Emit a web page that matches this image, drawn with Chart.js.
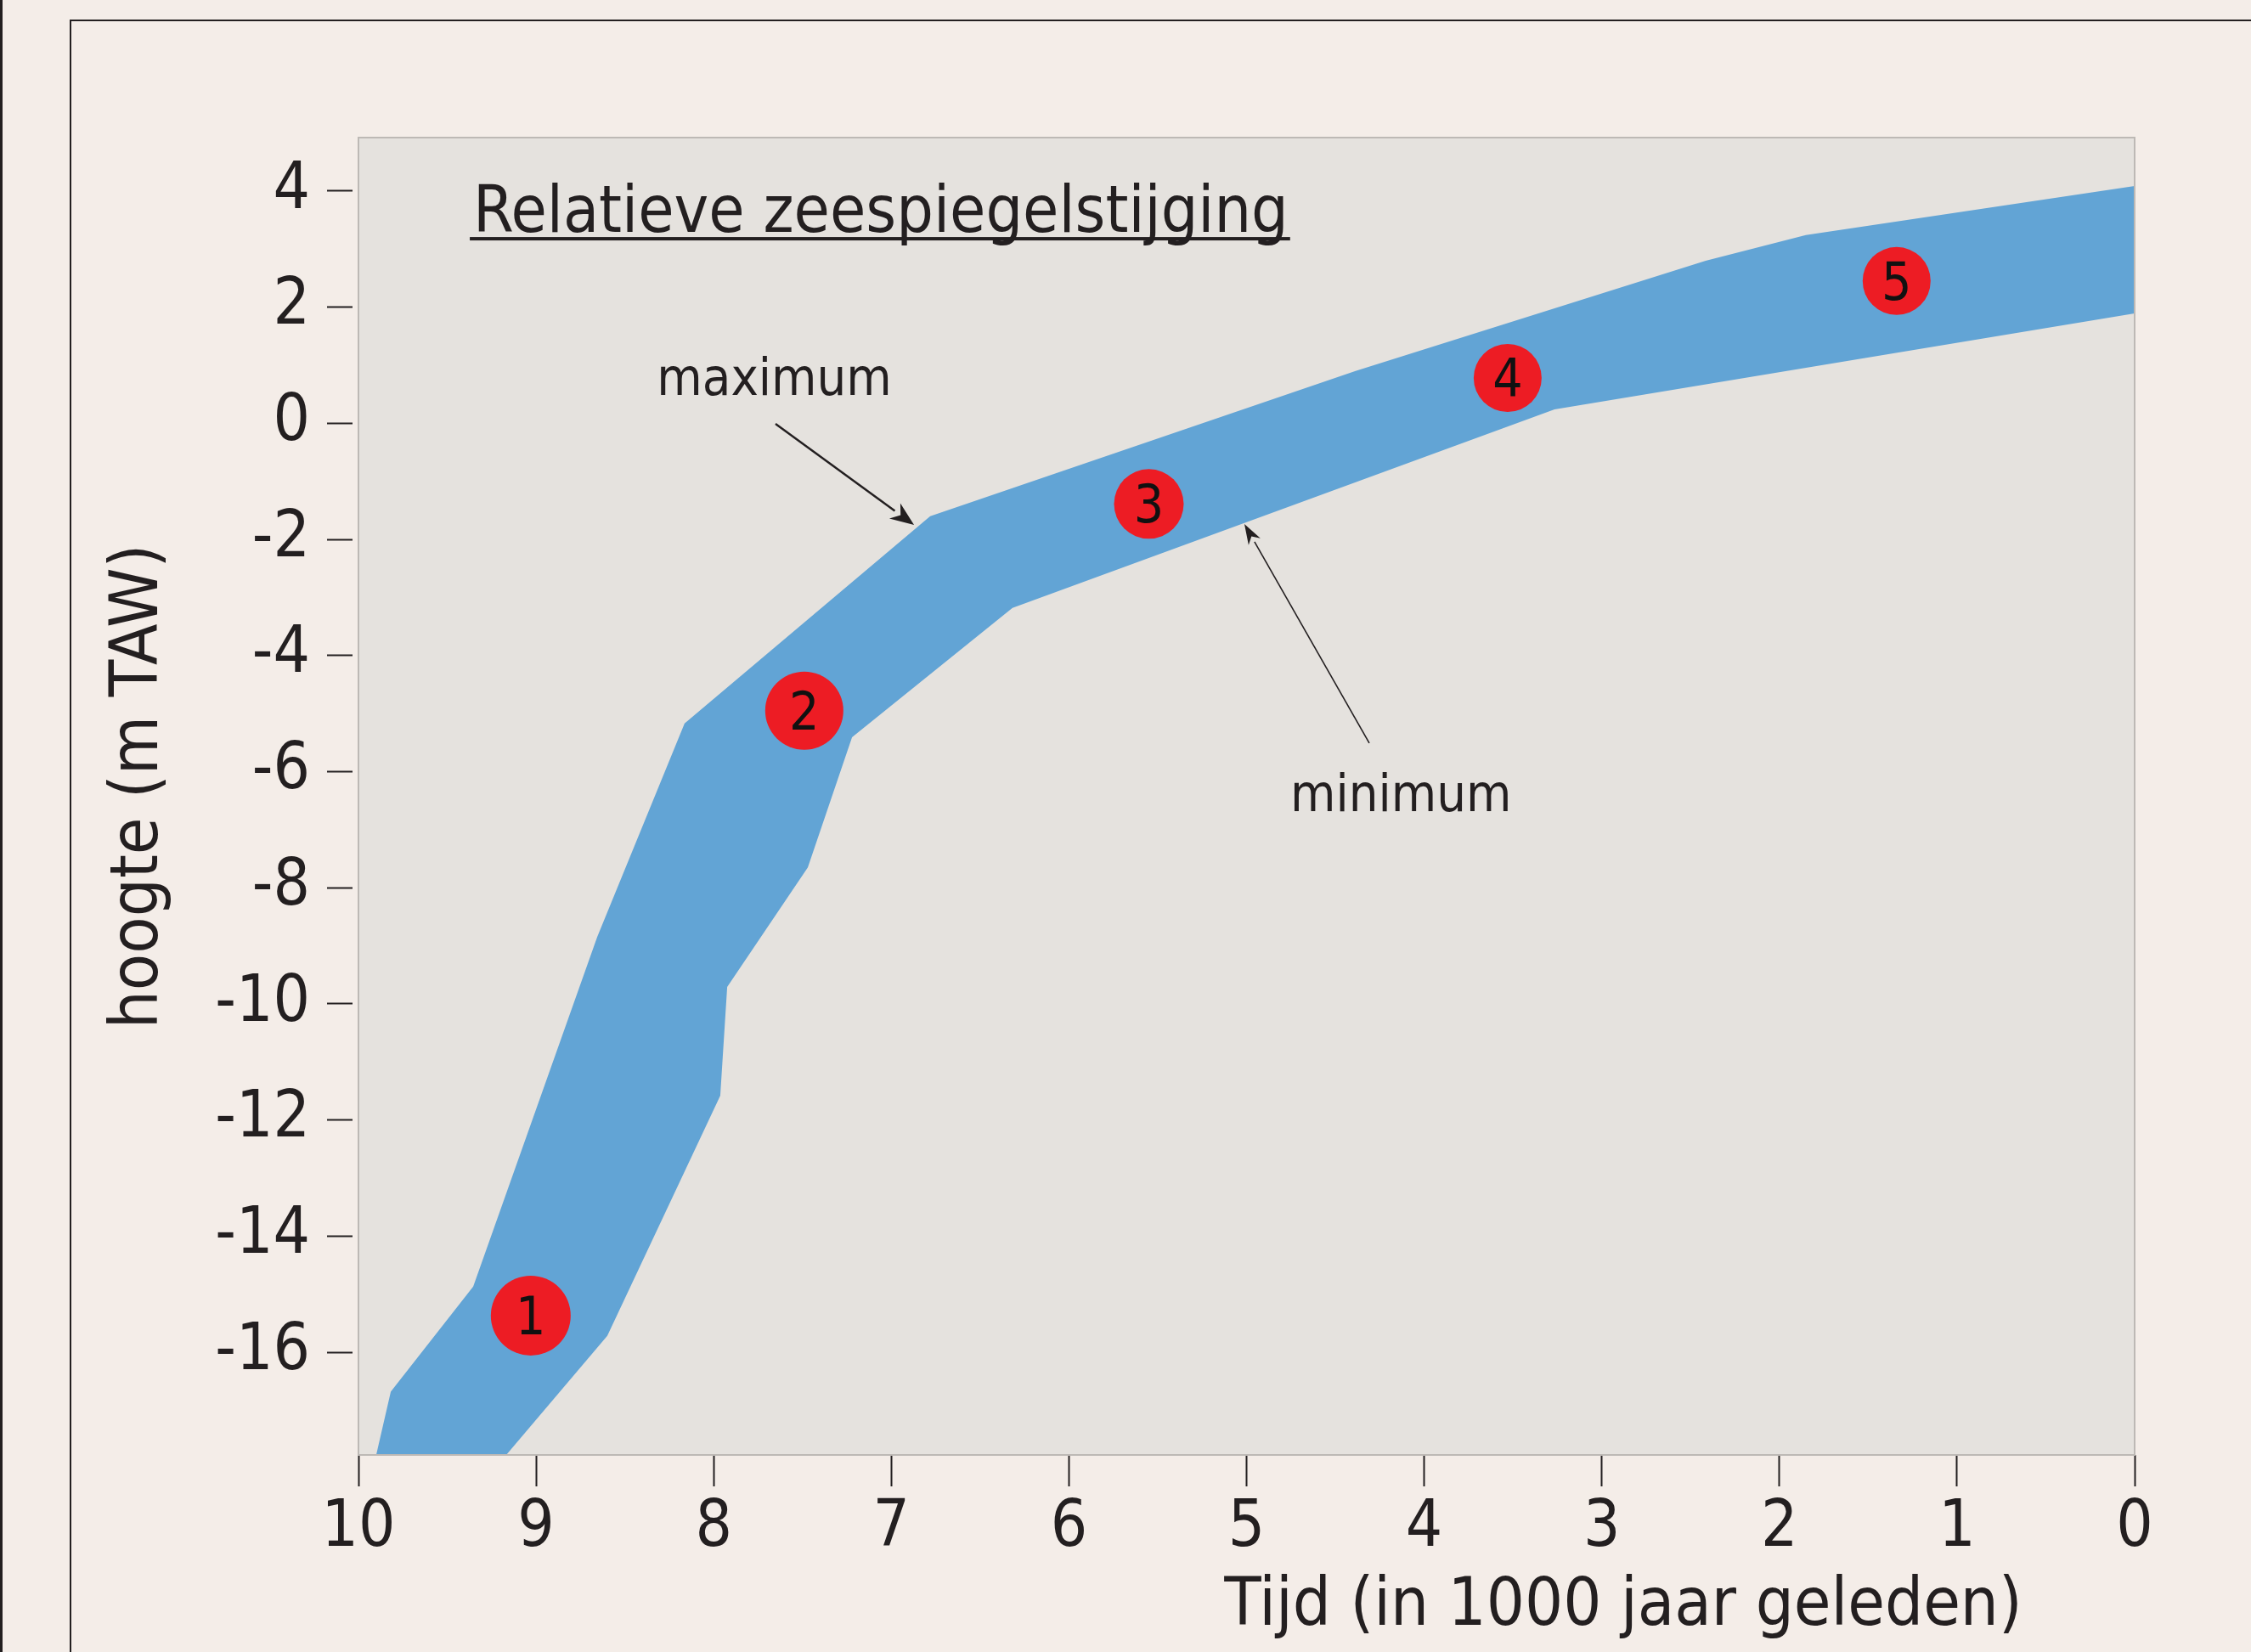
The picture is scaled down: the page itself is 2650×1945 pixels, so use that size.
<!DOCTYPE html>
<html>
<head>
<meta charset="utf-8">
<script src="https://cdn.jsdelivr.net/npm/chart.js@4/dist/chart.umd.min.js"></script>
<style>
  html, body { margin: 0; padding: 0; background: #f4ede8; }
  #wrap { width: 2650px; height: 1945px; position: relative; }
</style>
</head>
<body>
<div id="wrap"><canvas id="seaLevel"></canvas></div>
<script>
Chart.defaults.animation = false;

// maximum (upper) boundary of the band, time in 1000 years ago / height in m TAW
const maxX = [9.90, 9.818, 9.354, 8.656, 8.164, 6.781, 4.386, 2.415, 1.851, 0];
const maxY = [-17.77, -16.68, -14.87, -8.85, -5.17, -1.60, 0.90, 2.80, 3.24, 4.085];
// minimum (lower) boundary
const minX = [9.168, 8.599, 7.963, 7.924, 7.470, 7.221, 6.318, 3.266, 0];
const minY = [-17.77, -15.72, -11.58, -9.71, -7.65, -5.41, -3.18, 0.24, 1.89];
// numbered red markers
const siteX = [9.03, 7.49, 5.55, 3.53, 1.34];
const siteY = [-15.37, -4.95, -1.39, 0.78, 2.45];
const siteLabels = ['1', '2', '3', '4', '5'];
// axes
const xTicks = [10, 9, 8, 7, 6, 5, 4, 3, 2, 1, 0];
const yTicks = [4, 2, 0, -2, -4, -6, -8, -10, -12, -14, -16];
const yMin = -17.77, yMax = 4.92;

const FONT = '"DejaVu Sans Condensed", "DejaVu Sans", sans-serif';
const INK = '#231f20';
const PAGE_BG = '#f4ede8';
const PLOT_BG = '#e5e2de';
const PLOT_EDGE = '#bdb9b5';
const BAND = '#62a4d5';
const RED = '#ed1c24';

// band polygon: along the maximum, back along the minimum
const bandPoints = maxX.map((x, i) => ({ x, y: maxY[i] }))
  .concat(minX.map((x, i) => ({ x, y: minY[i] })).reverse());
const sitePoints = siteX.map((x, i) => ({ x, y: siteY[i] }));

function arrow(ctx, x1, y1, x2, y2, lw, headLen, headW) {
  const ang = Math.atan2(y2 - y1, x2 - x1);
  const bx = x2 - Math.cos(ang) * headLen, by = y2 - Math.sin(ang) * headLen;
  ctx.lineWidth = lw;
  ctx.beginPath();
  ctx.moveTo(x1, y1);
  ctx.lineTo(bx, by);
  ctx.stroke();
  ctx.beginPath();
  ctx.moveTo(x2, y2);
  ctx.lineTo(bx + Math.sin(ang) * headW, by - Math.cos(ang) * headW);
  ctx.lineTo(x2 - Math.cos(ang) * headLen * 0.7, y2 - Math.sin(ang) * headLen * 0.7);
  ctx.lineTo(bx - Math.sin(ang) * headW, by + Math.cos(ang) * headW);
  ctx.closePath();
  ctx.fill();
}

const decor = {
  id: 'decor',
  beforeDraw(chart) {
    const { ctx, chartArea: a, width, height } = chart;
    ctx.save();
    ctx.fillStyle = PAGE_BG;
    ctx.fillRect(0, 0, width, height);
    ctx.fillStyle = INK;
    ctx.fillRect(0, 0, 3, height);
    ctx.strokeStyle = INK;
    ctx.lineWidth = 2;
    ctx.beginPath();
    ctx.moveTo(83, height);
    ctx.lineTo(83, 24);
    ctx.lineTo(width, 24);
    ctx.stroke();
    ctx.fillStyle = PLOT_BG;
    ctx.fillRect(a.left, a.top, a.right - a.left, a.bottom - a.top);
    ctx.restore();
  },
  afterDatasetsDraw(chart) {
    const { ctx, chartArea: a, scales: { x, y } } = chart;
    ctx.save();
    // plot frame
    ctx.strokeStyle = PLOT_EDGE;
    ctx.lineWidth = 2;
    ctx.strokeRect(a.left, a.top, a.right - a.left, a.bottom - a.top);

    // marker numbers
    const meta = chart.getDatasetMeta(0);
    ctx.fillStyle = '#111';
    ctx.font = '62px ' + FONT;
    ctx.textAlign = 'center';
    ctx.textBaseline = 'alphabetic';
    meta.data.forEach((pt, i) => {
      ctx.fillText(siteLabels[i], pt.x, pt.y + 22);
    });

    // heading
    ctx.fillStyle = INK;
    ctx.font = '76.5px ' + FONT;
    ctx.textAlign = 'left';
    const title = 'Relatieve zeespiegelstijging';
    const tx = x.getPixelForValue(9.354), ty = y.getPixelForValue(3.295);
    ctx.fillText(title, tx, ty);
    const tw = ctx.measureText(title).width;
    ctx.fillRect(tx - 4, ty + 6, tw + 6, 4);

    // annotations
    ctx.font = '61px ' + FONT;
    ctx.fillText('maximum', x.getPixelForValue(8.32), y.getPixelForValue(0.49));
    ctx.fillText('minimum', x.getPixelForValue(4.754), y.getPixelForValue(-6.68));
    ctx.strokeStyle = INK;
    arrow(ctx, x.getPixelForValue(7.652), y.getPixelForValue(-0.011),
      x.getPixelForValue(6.872), y.getPixelForValue(-1.751), 2.5, 28, 11);
    arrow(ctx, x.getPixelForValue(4.309), y.getPixelForValue(-5.51),
      x.getPixelForValue(5.012), y.getPixelForValue(-1.736), 1.6, 24, 8);

    // axis titles
    ctx.font = '79px ' + FONT;
    ctx.textAlign = 'center';
    ctx.fillText('Tijd (in 1000 jaar geleden)', 1911, 1913);
    ctx.translate(185, 926);
    ctx.rotate(-Math.PI / 2);
    ctx.fillText('hoogte (m TAW)', 0, 0);
    ctx.restore();
  }
};

new Chart(document.getElementById('seaLevel'), {
  type: 'line',
  data: {
    datasets: [{
      label: 'sites',
      data: sitePoints,
      showLine: false,
      pointRadius: [47, 46, 41, 40, 40],
      pointBackgroundColor: RED,
      pointBorderWidth: 0,
      pointHoverRadius: 0,
      order: 0
    }, {
      label: 'zeespiegel',
      data: bandPoints,
      fill: 'shape',
      backgroundColor: BAND,
      borderColor: 'rgba(0,0,0,0)',
      borderWidth: 0,
      pointRadius: 0,
      tension: 0,
      order: 1
    }]
  },
  options: {
    responsive: true,
    maintainAspectRatio: false,
    devicePixelRatio: 1,
    animation: false,
    layout: { padding: { left: 0, top: 162, right: 137, bottom: 0 } },
    plugins: {
      legend: { display: false },
      tooltip: { enabled: false },
      title: { display: false }
    },
    scales: {
      x: {
        type: 'linear',
        reverse: true,
        min: 0,
        max: 10,
        afterBuildTicks: (s) => { s.ticks = xTicks.map(v => ({ value: v })); },
        afterFit: (s) => { s.height = 232; },
        border: { display: false },
        grid: { drawOnChartArea: false, drawTicks: true, tickLength: 37, tickWidth: 2, tickColor: INK },
        ticks: { font: { family: FONT, size: 76 }, color: INK, padding: 5, maxRotation: 0, autoSkip: false }
      },
      y: {
        type: 'linear',
        min: yMin,
        max: yMax,
        afterBuildTicks: (s) => { s.ticks = yTicks.map(v => ({ value: v })); },
        afterFit: (s) => { s.width = 422; },
        border: { display: false },
        grid: { drawOnChartArea: false, drawTicks: true, tickLength: 37, tickWidth: 2, tickColor: INK, tickBorderDash: [30, 20] },
        ticks: { font: { family: FONT, size: 76 }, color: INK, padding: 20, autoSkip: false }
      }
    }
  },
  plugins: [decor]
});
</script>
</body>
</html>
